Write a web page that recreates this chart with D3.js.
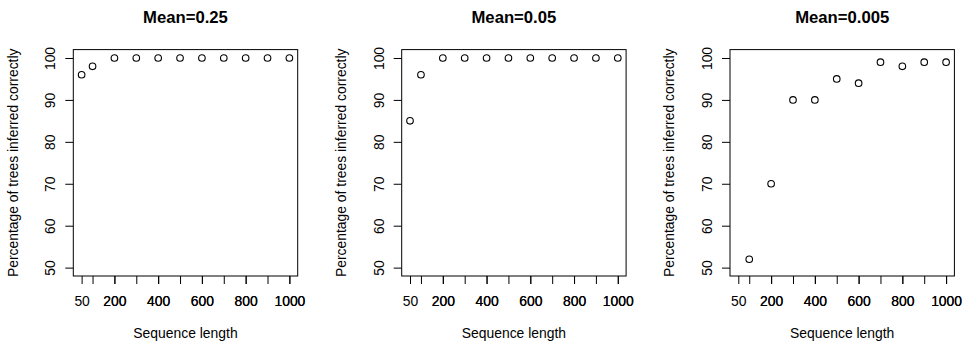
<!DOCTYPE html>
<html>
<head>
<meta charset="utf-8">
<script src="https://cdn.jsdelivr.net/npm/d3@7"></script>
<style>
  html, body { margin: 0; padding: 0; background: #fff; }
  svg { display: block; font-family: "Liberation Sans", Arial, Helvetica, sans-serif; }
</style>
</head>
<body>
<svg id="svg" width="962" height="345"></svg>
<script>
// data
const seqLenA = [50, 100, 200, 300, 400, 500, 600, 700, 800, 900, 1000];
const seqLenB = [100, 200, 300, 400, 500, 600, 700, 800, 900, 1000];
const pctMean025 = [96, 98, 100, 100, 100, 100, 100, 100, 100, 100, 100];
const pctMean005 = [85, 96, 100, 100, 100, 100, 100, 100, 100, 100, 100];
const pctMean0005 = [52, 70, 90, 90, 95, 94, 99, 98, 99, 99];

const titles = ['Mean=0.25', 'Mean=0.05', 'Mean=0.005'];
const xTicks = [50, 100, 200, 300, 400, 500, 600, 700, 800, 900, 1000];
const xTickLabels = [50, 200, 400, 600, 800, 1000];
const xDefaultTicks = [200, 400, 600, 800, 1000];
const yTicks = [50, 60, 70, 80, 90, 100];

const panels = [
  { title: titles[0], xs: seqLenA, ys: pctMean025, left: 73.3 },
  { title: titles[1], xs: seqLenA, ys: pctMean005, left: 401.7 },
  { title: titles[2], xs: seqLenB, ys: pctMean0005, left: 730 }
];

const boxW = 224.4, boxTop = 49.6, boxBottom = 276;
const fs = 13.9;

// R style 4% axis extension
function rExt(a, b) { const d = (b - a) * 0.04; return [a - d, b + d]; }

const svg = d3.select('#svg');

panels.forEach(p => {
  const x = d3.scaleLinear().domain(rExt(50, 1000)).range([0, boxW]);
  const y = d3.scaleLinear().domain(rExt(50, 100)).range([boxBottom - boxTop, 0]);
  const h = boxBottom - boxTop;
  const g = svg.append('g').attr('transform', `translate(${p.left},${boxTop})`);

  // x axis: custom ticks, then the default ticks drawn over them
  const xa1 = d3.axisBottom(x).tickValues(xTicks).tickSize(8).tickSizeOuter(0).tickPadding(12)
    .tickFormat(d => xTickLabels.includes(d) ? d : '');
  const xa2 = d3.axisBottom(x).tickValues(xDefaultTicks).tickSize(8).tickSizeOuter(0).tickPadding(12)
    .tickFormat(d3.format('d'));
  [xa1, xa2].forEach(ax => {
    const ag = g.append('g').attr('transform', `translate(0,${h})`).call(ax);
    ag.select('.domain').remove();
    ag.selectAll('text').attr('font-size', fs).attr('fill', '#000').attr('font-family', null);
    ag.selectAll('line').attr('stroke', '#000');
  });

  // y axis with rotated labels
  const ya = d3.axisLeft(y).tickValues(yTicks).tickSize(8).tickSizeOuter(0);
  const yg = g.append('g').call(ya);
  yg.select('.domain').remove();
  yg.selectAll('line').attr('stroke', '#000');
  yg.selectAll('text')
    .attr('x', null).attr('dy', null)
    .attr('transform', 'translate(-18,0) rotate(-90)')
    .attr('text-anchor', 'middle')
    .attr('font-size', fs).attr('fill', '#000').attr('font-family', null);

  // box
  g.append('rect').attr('x', 0).attr('y', 0).attr('width', boxW).attr('height', h)
    .attr('fill', 'none').attr('stroke', '#000').attr('stroke-width', 1);

  // points
  g.selectAll('circle.pt')
    .data(p.xs.map((v, i) => [v, p.ys[i]]))
    .enter()
    .append('circle')
    .attr('class', 'pt')
    .attr('cx', d => x(d[0]))
    .attr('cy', d => y(d[1]))
    .attr('r', 3.3)
    .attr('fill', 'none')
    .attr('stroke', '#000')
    .attr('stroke-width', 1.1);

  // title
  svg.append('text')
    .attr('x', p.left + boxW / 2).attr('y', 22.7)
    .attr('text-anchor', 'middle')
    .attr('font-weight', 'bold')
    .attr('font-size', fs * 1.2)
    .text(p.title);

  // axis titles
  svg.append('text')
    .attr('x', p.left + boxW / 2).attr('y', 338.3)
    .attr('text-anchor', 'middle')
    .attr('font-size', fs)
    .text('Sequence length');

  svg.append('text')
    .attr('transform', `translate(${p.left - 55.8},${(boxTop + boxBottom) / 2}) rotate(-90)`)
    .attr('text-anchor', 'middle')
    .attr('font-size', fs)
    .text('Percentage of trees inferred correctly');
});
</script>
</body>
</html>
